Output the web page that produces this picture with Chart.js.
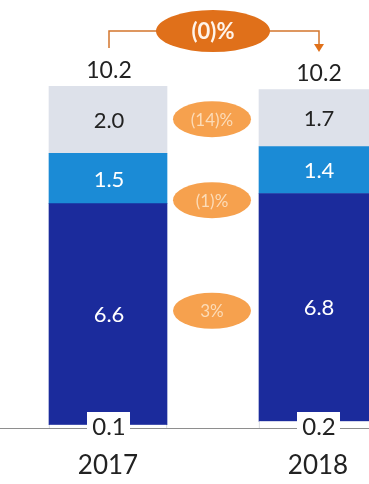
<!DOCTYPE html>
<html>
<head>
<meta charset="utf-8">
<title>Revenue mix 2017–2018</title>
<script src="https://cdn.jsdelivr.net/npm/chart.js@4.4.1/dist/chart.umd.min.js"></script>
<style>
  html, body { margin: 0; padding: 0; background: #ffffff; overflow: hidden; width: 369px; height: 484px; }
  #wrap { width: 424px; height: 484px; }
</style>
</head>
<body>
<div id="wrap"><canvas id="c" width="424" height="484"></canvas></div>
<script>
// Categories and stacked segment values (bottom to top)
const years = ['2017', '2018'];
const otherVals = [0.1, 0.2];
const coreVals = [6.6, 6.8];
const midVals = [1.5, 1.4];
const topVals = [2.0, 1.7];
const totals = [10.2, 10.2];

// Year-over-year change badges: total change, then per segment (top, mid, core)
const totalChange = '(0)%';
const segmentChanges = ['(14)%', '(1)%', '3%'];
// Vertical anchor (in value units) for each badge
const totalChangeAt = 11.85;
const segmentChangeAt = [9.22, 6.8, 3.5];

const FONT = 'Lato, "Liberation Sans", sans-serif';

function ellipse(ctx, cx, cy, rx, ry, fill) {
  ctx.beginPath();
  ctx.ellipse(cx, cy, rx, ry, 0, 0, Math.PI * 2);
  ctx.fillStyle = fill;
  ctx.fill();
}

const annotate = {
  id: 'annotate',
  afterDatasetsDraw(chart) {
    const ctx = chart.ctx;
    const xs = chart.scales.x;
    const ys = chart.scales.y;
    const y0 = ys.getPixelForValue(0);
    const cx = years.map((_, i) => xs.getPixelForValue(i));
    const mid = (cx[0] + cx[1]) / 2;

    ctx.save();
    // baseline
    ctx.strokeStyle = '#8e8e8e';
    ctx.lineWidth = 1;
    ctx.beginPath();
    ctx.moveTo(0, Math.round(y0) + 0.5);
    ctx.lineTo(chart.width, Math.round(y0) + 0.5);
    ctx.stroke();

    ctx.textAlign = 'center';
    ctx.textBaseline = 'middle';

    // labels inside segments
    const segStyle = [null, '#ffffff', '#ffffff', '#222222'];
    for (let d = 1; d <= 3; d++) {
      const meta = chart.getDatasetMeta(d);
      const vals = chart.data.datasets[d].data;
      meta.data.forEach((bar, i) => {
        const yc = (bar.y + bar.base) / 2;
        ctx.fillStyle = segStyle[d];
        ctx.font = '22px ' + FONT;
        ctx.fillText(vals[i].toFixed(1), bar.x + 1, yc + 1);
      });
    }

    // small bottom segment labels on white tags across the baseline
    chart.getDatasetMeta(0).data.forEach((bar, i) => {
      ctx.fillStyle = '#ffffff';
      ctx.fillRect(bar.x - 21, y0 - 16, 43, 26);
      ctx.fillStyle = '#222222';
      ctx.font = '24px ' + FONT;
      ctx.fillText(otherVals[i].toFixed(1), bar.x + 1, y0 - 1);
    });

    // totals above stacks
    const topMeta = chart.getDatasetMeta(3);
    topMeta.data.forEach((bar, i) => {
      ctx.fillStyle = '#222222';
      ctx.font = '23px ' + FONT;
      ctx.fillText(totals[i].toFixed(1), bar.x + 1, bar.y - 16);
    });

    // year labels
    years.forEach((yr, i) => {
      ctx.fillStyle = '#222222';
      ctx.font = '26px ' + FONT;
      ctx.fillText(yr, cx[i], y0 + 38);
    });

    // total change connector with arrow
    const ty = ys.getPixelForValue(totalChangeAt);
    ctx.strokeStyle = '#d4762c';
    ctx.lineWidth = 1.5;
    ctx.beginPath();
    ctx.moveTo(cx[0] + 1, ty + 17);
    ctx.lineTo(cx[0] + 1, ty);
    ctx.lineTo(cx[1] + 1, ty);
    ctx.lineTo(cx[1] + 1, ty + 14);
    ctx.stroke();
    ctx.fillStyle = '#e0711a';
    ctx.beginPath();
    ctx.moveTo(cx[1] - 4, ty + 13);
    ctx.lineTo(cx[1] + 6, ty + 13);
    ctx.lineTo(cx[1] + 1, ty + 21);
    ctx.closePath();
    ctx.fill();

    ellipse(ctx, mid, ty, 57, 21, '#e0701a');
    ctx.fillStyle = '#fff4ea';
    ctx.font = 'bold 22px ' + FONT;
    ctx.fillText(totalChange, mid, ty + 1);

    // per-segment change badges
    segmentChanges.forEach((txt, k) => {
      const y = ys.getPixelForValue(segmentChangeAt[k]);
      ellipse(ctx, mid - 1, y, 39, 18, '#f6a14e');
      ctx.fillStyle = '#fcdcb8';
      ctx.font = '17px ' + FONT;
      ctx.fillText(txt, mid - 1, y + 1);
    });
    ctx.restore();
  }
};

new Chart(document.getElementById('c'), {
  type: 'bar',
  data: {
    labels: years,
    datasets: [
      { label: 'Other', data: otherVals, backgroundColor: '#ffffff',
        borderColor: '#cfd3da', borderWidth: { left: 1, right: 1, top: 0, bottom: 0 } },
      { label: 'Core', data: coreVals, backgroundColor: '#1b2b9c' },
      { label: 'Mid', data: midVals, backgroundColor: '#1b8bd6' },
      { label: 'Top', data: topVals, backgroundColor: '#dde1ea' }
    ]
  },
  options: {
    responsive: false,
    animation: false,
    barThickness: 118,
    layout: { padding: { left: 3, right: 1, top: 26, bottom: 56 } },
    scales: {
      x: { display: false, stacked: true },
      y: { display: false, stacked: true, min: 0, max: 12 }
    },
    plugins: { legend: { display: false }, tooltip: { enabled: false } }
  },
  plugins: [annotate]
});
</script>
</body>
</html>
